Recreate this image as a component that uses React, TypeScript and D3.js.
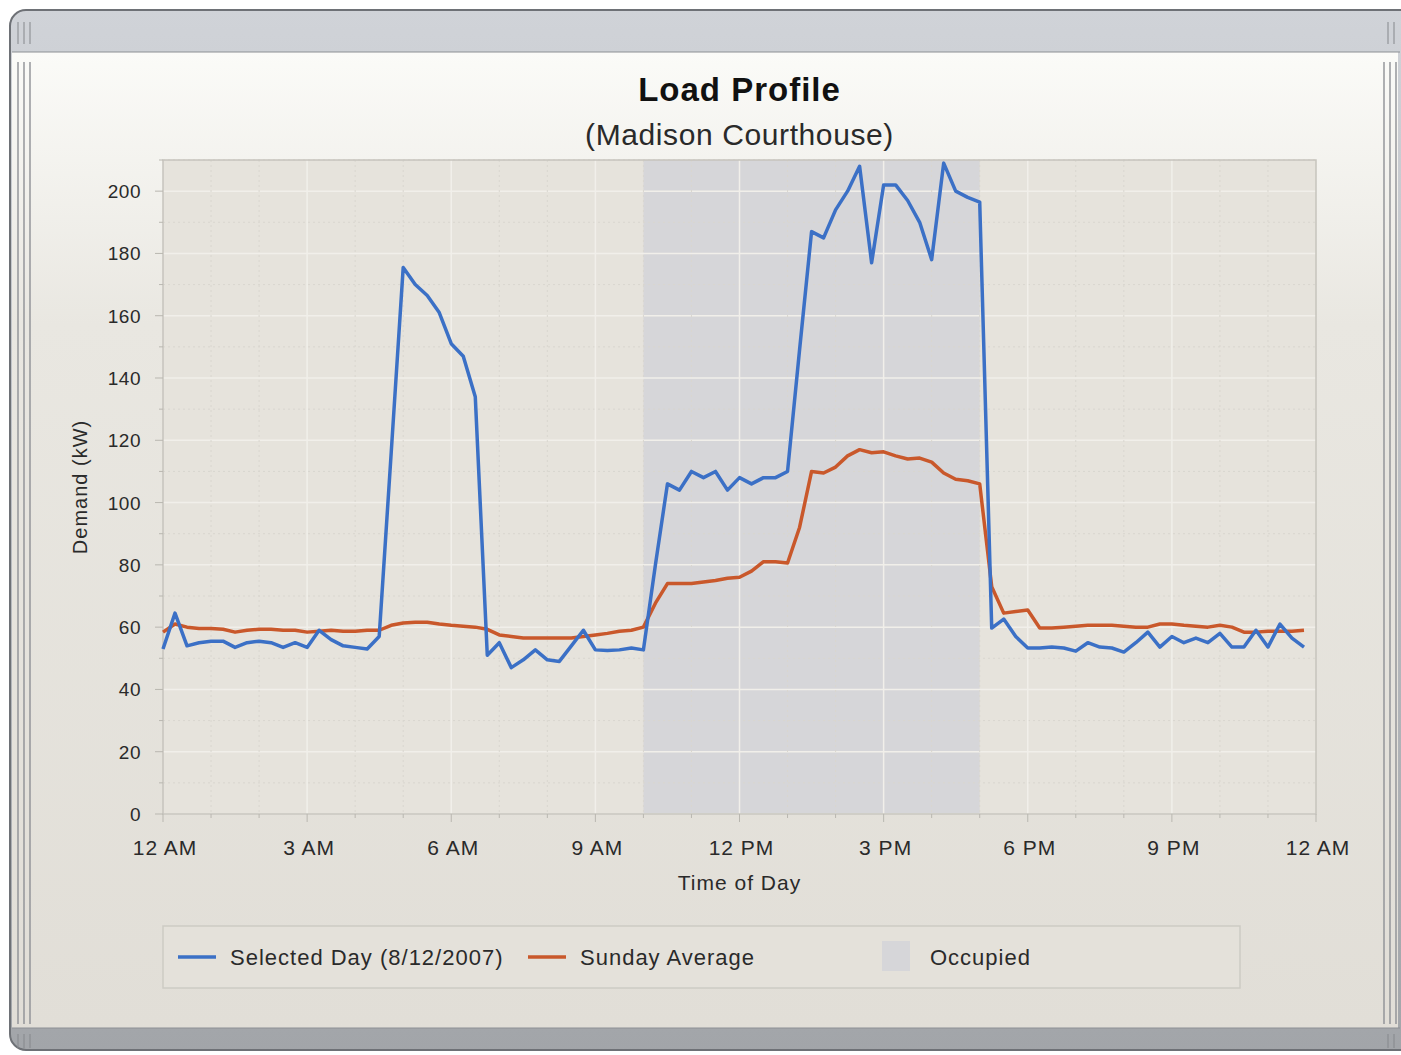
import { useEffect, useRef } from "react";
import * as d3 from "d3";

// ─── Data (15-minute readings) ────────────────────────────────────────────────

// hour of day for each reading: 0, 0.25, ... 23.75
const TIMES = d3.range(0, 24, 0.25);

const SELECTED_DAY = [
  53, 64.5, 54, 55, 55.5, 55.5, 53.5, 55, 55.5, 55, 53.5, 55, // 12–3 AM
  53.5, 59, 56, 54, 53.5, 53, 57, 116, 175.5, 170, 166.5, 161, // 3–6 AM
  151, 147, 134, 51, 55, 47, 49.5, 52.7, 49.5, 49, 54, 59, // 6–9 AM
  52.7, 52.5, 52.7, 53.3, 52.7, 80, 106, 104, 110, 108, 110, 104, // 9 AM–12 PM
  108, 106, 108, 108, 110, 149, 187, 185, 194, 200, 208, 177, // 12–3 PM
  202, 202, 197, 190, 178, 209, 200, 198, 196.5, 59.7, 62.6, 57, // 3–6 PM
  53.3, 53.3, 53.6, 53.3, 52.3, 55, 53.6, 53.3, 52, 55, 58.4, 53.6, // 6–9 PM
  57, 55, 56.5, 55, 58, 53.6, 53.6, 59, 53.6, 61, 56.5, 53.6, // 9 PM–12 AM
];

const SUNDAY_AVERAGE = [
  58.4, 61, 60, 59.6, 59.6, 59.3, 58.4, 59, 59.3, 59.3, 59, 59, // 12–3 AM
  58.4, 58.7, 59, 58.7, 58.7, 59, 59, 60.6, 61.3, 61.6, 61.6, 61, // 3–6 AM
  60.6, 60.3, 60, 59.3, 57.5, 57, 56.5, 56.5, 56.5, 56.5, 56.5, 57, // 6–9 AM
  57.5, 58, 58.7, 59, 60, 67.7, 74, 74, 74, 74.5, 75, 75.7, // 9 AM–12 PM
  76, 78, 81, 81, 80.6, 92, 110, 109.5, 111.4, 115, 117, 116, // 12–3 PM
  116.3, 115, 114, 114.3, 113, 109.5, 107.5, 107, 106, 73, 64.5, 65, // 3–6 PM
  65.5, 59.7, 59.7, 60, 60.3, 60.6, 60.6, 60.6, 60.3, 60, 60, 61, // 6–9 PM
  61, 60.6, 60.3, 60, 60.6, 60, 58.4, 58.4, 58.7, 58.7, 58.7, 59, // 9 PM–12 AM
];

const OCCUPIED = [10, 17]; // hours
const X_TICKS = [0, 3, 6, 9, 12, 15, 18, 21, 24];
const X_LABELS = ["12 AM", "3 AM", "6 AM", "9 AM", "12 PM", "3 PM", "6 PM", "9 PM", "12 AM"];
const Y_TICKS = [0, 20, 40, 60, 80, 100, 120, 140, 160, 180, 200];

// ─── Palette ──────────────────────────────────────────────────────────────────

const BLUE = "#3b70c6";
const ORANGE = "#c9582b";
const BAND = "#d6d6d9";
const TEXT = "#2a2a2a";
const FONT = "'Liberation Sans', Arial, sans-serif";

export default function App() {
  const svgRef = useRef<SVGSVGElement>(null);

  useEffect(() => {
    if (!svgRef.current) return;
    const W = 1401,
      H = 1055;
    const svg = d3.select(svgRef.current);
    svg.selectAll("*").remove();

    // ── Window chrome ───────────────────────────────────────────────────────────
    const defs = svg.append("defs");
    const bar = defs.append("linearGradient").attr("id", "bar").attr("x1", 0).attr("y1", 0).attr("x2", 0).attr("y2", 1);
    bar.append("stop").attr("offset", 0).attr("stop-color", "#d0d3d8");
    bar.append("stop").attr("offset", 1).attr("stop-color", "#a2a5a9");
    const panel = defs.append("linearGradient").attr("id", "panel").attr("x1", 0).attr("y1", 0).attr("x2", 0).attr("y2", 1);
    panel.append("stop").attr("offset", 0).attr("stop-color", "#fbfbf8");
    panel.append("stop").attr("offset", 0.28).attr("stop-color", "#e9e7e1");
    panel.append("stop").attr("offset", 1).attr("stop-color", "#e1ded7");

    svg.append("rect").attr("width", W).attr("height", H).attr("fill", "#ffffff");
    svg.append("rect")
      .attr("x", 10).attr("y", 10).attr("width", 1420).attr("height", 1040)
      .attr("rx", 16).attr("fill", "url(#bar)").attr("stroke", "#6e7176").attr("stroke-width", 2);
    svg.append("rect")
      .attr("x", 12).attr("y", 52).attr("width", 1386).attr("height", 976)
      .attr("fill", "url(#panel)");
    svg.append("line").attr("x1", 12).attr("x2", 1400).attr("y1", 52).attr("y2", 52).attr("stroke", "#8d9094");
    svg.append("line").attr("x1", 12).attr("x2", 1400).attr("y1", 1028).attr("y2", 1028).attr("stroke", "#8d9094");

    // grip lines on the sides
    [18, 24, 30, 1384, 1390, 1396].forEach((x) => {
      svg.append("line").attr("x1", x).attr("x2", x).attr("y1", 62).attr("y2", 1024)
        .attr("stroke", "#8e9095").attr("stroke-width", 1.4);
    });
    [18, 24, 30].forEach((x) => {
      svg.append("line").attr("x1", x).attr("x2", x).attr("y1", 22).attr("y2", 44).attr("stroke", "#85888c");
      svg.append("line").attr("x1", x).attr("x2", x).attr("y1", 1034).attr("y2", 1048).attr("stroke", "#85888c");
    });
    [1388, 1394].forEach((x) => {
      svg.append("line").attr("x1", x).attr("x2", x).attr("y1", 22).attr("y2", 44).attr("stroke", "#85888c");
      svg.append("line").attr("x1", x).attr("x2", x).attr("y1", 1034).attr("y2", 1048).attr("stroke", "#85888c");
    });

    // ── Plot ────────────────────────────────────────────────────────────────────
    const m = { left: 163, top: 160, right: 1316, bottom: 814 };
    const x = d3.scaleLinear().domain([0, 24]).range([m.left, m.right]);
    const y = d3.scaleLinear().domain([0, 210]).range([m.bottom, m.top]);

    svg.append("rect")
      .attr("x", m.left).attr("y", m.top)
      .attr("width", m.right - m.left).attr("height", m.bottom - m.top)
      .attr("fill", "#e6e3dc");

    // occupied band
    svg.append("rect")
      .attr("x", x(OCCUPIED[0])).attr("y", m.top)
      .attr("width", x(OCCUPIED[1]) - x(OCCUPIED[0])).attr("height", m.bottom - m.top)
      .attr("fill", BAND);

    // grid
    const grid = svg.append("g");
    d3.range(0, 211, 10).forEach((v) => {
      const major = v % 20 === 0;
      grid.append("line")
        .attr("x1", m.left).attr("x2", m.right).attr("y1", y(v)).attr("y2", y(v))
        .attr("stroke", major ? "#f1efea" : "#d9d6cf")
        .attr("stroke-width", major ? 1.5 : 1)
        .attr("stroke-dasharray", major ? null : "2,3");
    });
    d3.range(1, 24).forEach((h) => {
      const major = h % 3 === 0;
      grid.append("line")
        .attr("x1", x(h)).attr("x2", x(h)).attr("y1", m.top).attr("y2", m.bottom)
        .attr("stroke", major ? "#f1efea" : "#d9d6cf")
        .attr("stroke-width", major ? 1.5 : 1)
        .attr("stroke-dasharray", major ? null : "2,3");
    });

    svg.append("rect")
      .attr("x", m.left).attr("y", m.top)
      .attr("width", m.right - m.left).attr("height", m.bottom - m.top)
      .attr("fill", "none").attr("stroke", "#c6c4bd").attr("stroke-width", 1.5);

    // axis ticks
    d3.range(0, 211, 10).forEach((v) => {
      svg.append("line")
        .attr("x1", m.left - (v % 20 === 0 ? 8 : 4)).attr("x2", m.left)
        .attr("y1", y(v)).attr("y2", y(v)).attr("stroke", "#b9b7b0");
    });
    d3.range(0, 25).forEach((h) => {
      svg.append("line")
        .attr("x1", x(h)).attr("x2", x(h))
        .attr("y1", m.bottom).attr("y2", m.bottom + (h % 3 === 0 ? 8 : 4)).attr("stroke", "#b9b7b0");
    });

    // tick labels
    Y_TICKS.forEach((v) => {
      svg.append("text")
        .attr("x", 141).attr("y", y(v) + 7)
        .attr("text-anchor", "end")
        .attr("font-family", FONT).attr("font-size", 19).attr("letter-spacing", 0.5)
        .attr("fill", TEXT).text(v);
    });
    X_TICKS.forEach((h, i) => {
      svg.append("text")
        .attr("x", x(h) + 2).attr("y", 855)
        .attr("text-anchor", "middle")
        .attr("font-family", FONT).attr("font-size", 21).attr("letter-spacing", 1)
        .attr("fill", TEXT).text(X_LABELS[i]);
    });

    // axis titles
    svg.append("text")
      .attr("x", x(12)).attr("y", 890).attr("text-anchor", "middle")
      .attr("font-family", FONT).attr("font-size", 21).attr("letter-spacing", 1)
      .attr("fill", TEXT).text("Time of Day");
    svg.append("text")
      .attr("transform", `translate(87,${y(105)}) rotate(-90)`)
      .attr("text-anchor", "middle")
      .attr("font-family", FONT).attr("font-size", 20).attr("letter-spacing", 1)
      .attr("fill", TEXT).text("Demand (kW)");

    // title
    svg.append("text")
      .attr("x", x(12)).attr("y", 101).attr("text-anchor", "middle")
      .attr("font-family", FONT).attr("font-size", 33).attr("font-weight", "bold").attr("letter-spacing", 1)
      .attr("fill", "#111").text("Load Profile");
    svg.append("text")
      .attr("x", x(12)).attr("y", 145).attr("text-anchor", "middle")
      .attr("font-family", FONT).attr("font-size", 30).attr("letter-spacing", 0.6)
      .attr("fill", TEXT).text("(Madison Courthouse)");

    // lines
    const line = d3.line<number>().x((_, i) => x(TIMES[i])).y((d) => y(d));
    svg.append("path").datum(SUNDAY_AVERAGE)
      .attr("d", line).attr("fill", "none")
      .attr("stroke", ORANGE).attr("stroke-width", 3.5).attr("stroke-linejoin", "round");
    svg.append("path").datum(SELECTED_DAY)
      .attr("d", line).attr("fill", "none")
      .attr("stroke", BLUE).attr("stroke-width", 3.5).attr("stroke-linejoin", "round");

    // ── Legend ──────────────────────────────────────────────────────────────────
    const lg = svg.append("g");
    lg.append("rect")
      .attr("x", 163).attr("y", 926).attr("width", 1077).attr("height", 62)
      .attr("fill", "#e4e1da").attr("stroke", "#cdcbc4").attr("stroke-width", 1.5);
    const ly = 957;
    lg.append("line").attr("x1", 178).attr("x2", 216).attr("y1", ly).attr("y2", ly)
      .attr("stroke", BLUE).attr("stroke-width", 3.5);
    lg.append("text").attr("x", 230).attr("y", ly + 8)
      .attr("font-family", FONT).attr("font-size", 22).attr("letter-spacing", 1)
      .attr("fill", TEXT).text("Selected Day (8/12/2007)");
    lg.append("line").attr("x1", 528).attr("x2", 566).attr("y1", ly).attr("y2", ly)
      .attr("stroke", ORANGE).attr("stroke-width", 3.5);
    lg.append("text").attr("x", 580).attr("y", ly + 8)
      .attr("font-family", FONT).attr("font-size", 22).attr("letter-spacing", 1)
      .attr("fill", TEXT).text("Sunday Average");
    lg.append("rect").attr("x", 882).attr("y", 941).attr("width", 28).attr("height", 30)
      .attr("fill", BAND);
    lg.append("text").attr("x", 930).attr("y", ly + 8)
      .attr("font-family", FONT).attr("font-size", 22).attr("letter-spacing", 1)
      .attr("fill", TEXT).text("Occupied");
  }, []);

  return (
    <svg
      ref={svgRef}
      width={1401}
      height={1055}
      style={{ position: "absolute", left: 0, top: 0, display: "block" }}
    />
  );
}
